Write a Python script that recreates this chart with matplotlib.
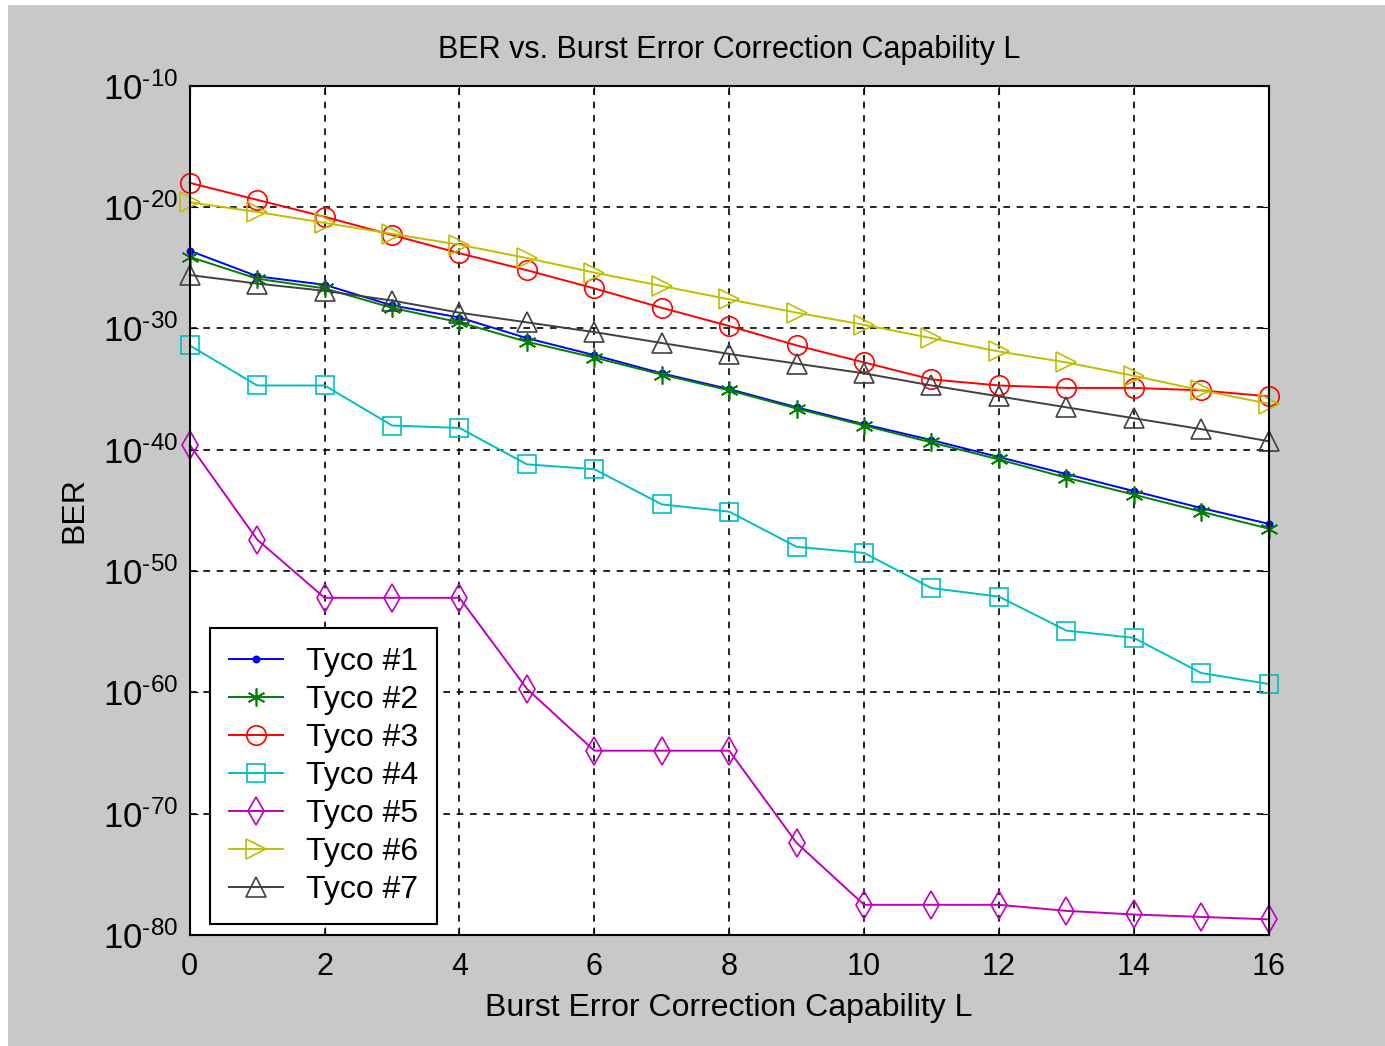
import numpy as np
import matplotlib
matplotlib.use("Agg")
import matplotlib.pyplot as plt
from matplotlib.patches import Rectangle
from matplotlib.ticker import FuncFormatter, NullLocator

plt.rcParams['font.family'] = ['Liberation Sans', 'DejaVu Sans']
plt.rcParams['mathtext.fontset'] = 'custom'
plt.rcParams['mathtext.rm'] = 'Liberation Sans'
plt.rcParams['mathtext.it'] = 'Liberation Sans'

L = list(range(17))

# exponents of BER (BER = 10**value)
tyco1 = [-23.6, -25.7, -26.4, -28.1, -29.1, -30.8, -32.2, -33.7, -35.0, -36.5, -37.9, -39.2, -40.6, -42.0, -43.4, -44.8, -46.1]
tyco2 = [-24.1, -25.9, -26.7, -28.3, -29.5, -31.1, -32.4, -33.8, -35.1, -36.6, -38.0, -39.4, -40.8, -42.3, -43.7, -45.1, -46.5]
tyco3 = [-18.0, -19.4, -20.8, -22.3, -23.8, -25.2, -26.7, -28.3, -29.8, -31.4, -32.8, -34.2, -34.7, -34.9, -34.9, -35.1, -35.6]
tyco4 = [-31.4, -34.7, -34.7, -38.0, -38.2, -41.2, -41.6, -44.5, -45.1, -48.0, -48.5, -51.4, -52.1, -54.9, -55.5, -58.4, -59.3]
tyco5 = [-39.6, -47.4, -52.2, -52.2, -52.2, -59.7, -64.8, -64.8, -64.8, -72.4, -77.5, -77.5, -77.5, -78.0, -78.3, -78.5, -78.7]
tyco6 = [-19.6, -20.4, -21.3, -22.2, -23.1, -24.2, -25.4, -26.5, -27.6, -28.7, -29.7, -30.8, -31.9, -32.8, -33.9, -35.1, -36.2]
tyco7 = [-25.6, -26.3, -26.9, -27.7, -28.7, -29.5, -30.3, -31.2, -32.1, -32.9, -33.7, -34.7, -35.6, -36.5, -37.4, -38.3, -39.3]

series = [tyco1, tyco2, tyco3, tyco4, tyco5, tyco6, tyco7]
names = ['Tyco #1', 'Tyco #2', 'Tyco #3', 'Tyco #4', 'Tyco #5', 'Tyco #6', 'Tyco #7']
colors = ['#0000ff', '#008000', '#ff0000', '#00bfbf', '#bf00bf', '#bfbf00', '#404040']
markers = ['.', (6, 2, 0), 'o', 's', 'd', '>', '^']
msizes = [9, 13, 14, 13, 14, 15, 15]

fig = plt.figure(figsize=(13.85, 10.46), dpi=100, facecolor='white')
fig.patches.append(Rectangle((8 / 1385, 0), 1, 1 - 5 / 1046, transform=fig.transFigure,
                             facecolor='#c8c8c8', edgecolor='none', zorder=-10))
ax = fig.add_axes([0.137, 0.106, 0.779, 0.812])

for y, n, c, m, s in zip(series, names, colors, markers, msizes):
    filled = m in ('.', (6, 2, 0))
    ax.semilogy(L, [10.0 ** v for v in y], color=c, marker=m, markersize=s,
                markerfacecolor=c if filled else 'none',
                markeredgewidth=1.2, linewidth=1.4, label=n, clip_on=False, zorder=3)

ax.set_xlim(0, 16)
ax.set_ylim(1e-80, 1e-10)
ax.set_xticks(range(0, 17, 2))
ax.set_yticks([10.0 ** e for e in range(-80, -9, 10)])
ax.yaxis.set_minor_locator(NullLocator())
ax.yaxis.set_major_formatter(FuncFormatter(
    lambda v, p: '$10^{\\text{-}%d}$' % round(-np.log10(v))))
ax.grid(True, color='black', linestyle=(0, (4, 4)), linewidth=1.2)
ax.tick_params(direction='in', top=True, right=True, length=6)
ax.tick_params(axis='x', labelsize=22, pad=12)
ax.tick_params(axis='y', labelsize=25, pad=8)
for sp in ax.spines.values():
    sp.set_linewidth(1.5)
    sp.set_zorder(4)

ax.set_title('BER vs. Burst Error Correction Capability L', fontsize=22, pad=20)
ax.set_xlabel('Burst Error Correction Capability L', fontsize=23, labelpad=8)
ax.set_ylabel('BER', fontsize=23, labelpad=10)

leg = ax.legend(loc='lower left', fontsize=23, fancybox=False, edgecolor='black',
                framealpha=1, handlelength=1.7, handletextpad=0.7, borderpad=0.6,
                labelspacing=0.25, borderaxespad=0,
                bbox_to_anchor=(20 / 1079, 11 / 849))
leg.get_frame().set_linewidth(1.5)
leg.set_zorder(5)

fig.savefig('out.png', dpi=100, facecolor=fig.get_facecolor())
